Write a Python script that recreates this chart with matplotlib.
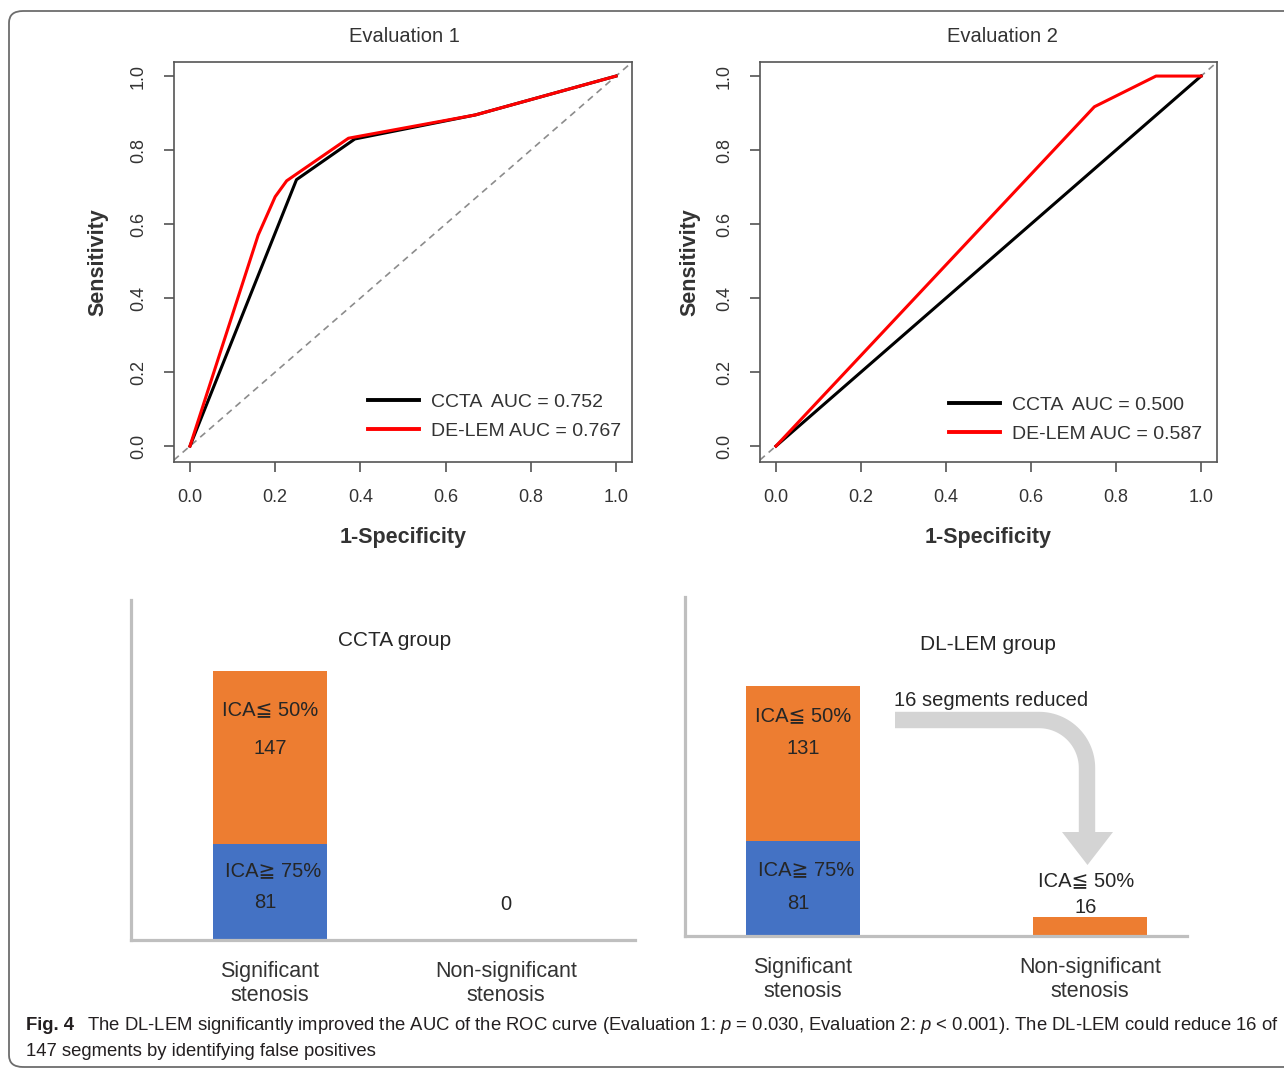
import numpy as np
import matplotlib
matplotlib.use("Agg")
import matplotlib.pyplot as plt
from matplotlib.lines import Line2D
from matplotlib.patches import Polygon, FancyBboxPatch

plt.rcParams['font.family'] = ['Liberation Sans', 'DejaVu Sans']
plt.rcParams['mathtext.fontset'] = 'custom'
plt.rcParams['mathtext.it'] = 'Liberation Sans:italic'
plt.rcParams['mathtext.rm'] = 'Liberation Sans'

# ---------------- data ----------------
eval_titles = ["Evaluation 1", "Evaluation 2"]

e1_ccta_fpr = [0.0, 0.25, 0.387, 0.67, 1.0]
e1_ccta_tpr = [0.0, 0.72, 0.83, 0.895, 1.0]
e1_dl_fpr = [0.0, 0.16, 0.20, 0.227, 0.372, 0.67, 1.0]
e1_dl_tpr = [0.0, 0.57, 0.674, 0.717, 0.832, 0.895, 1.0]

e2_ccta_fpr = [0.0, 1.0]
e2_ccta_tpr = [0.0, 1.0]
e2_dl_fpr = [0.0, 0.749, 0.894, 1.0]
e2_dl_tpr = [0.0, 0.917, 1.0, 1.0]

e1_labels = ["CCTA  AUC = 0.752", "DE-LEM AUC = 0.767"]
e2_labels = ["CCTA  AUC = 0.500", "DE-LEM AUC = 0.587"]

roc_ticks = [0.0, 0.2, 0.4, 0.6, 0.8, 1.0]
roc_ticklabels = ["0.0", "0.2", "0.4", "0.6", "0.8", "1.0"]

bar_categories = ["Significant\nstenosis", "Non-significant\nstenosis"]
ccta_high = [81, 0]     # ICA >= 75%
ccta_low = [147, 0]     # ICA <= 50%
dl_high = [81, 0]
dl_low = [131, 16]
group_titles = ["CCTA group", "DL-LEM group"]
reduced_text = "16 segments reduced"

ORANGE = "#ED7D31"
BLUE = "#4472C4"
GRAY_AX = "#bfbfbf"
TXT = "#262626"
RTXT = "#333333"

W, H = 1284, 1069
fig = plt.figure(figsize=(W / 100, H / 100), dpi=100)


def box(l, t, r, b):
    return [l / W, (H - b) / H, (r - l) / W, (b - t) / H]


def fx(x):
    return np.asarray(x) / W


def fy(y):
    return (H - np.asarray(y)) / H


# frame
frame = FancyBboxPatch((fx(9), fy(1067)), fx(1400) - fx(9), fy(11) - fy(1067),
                       boxstyle="round,pad=0,rounding_size=0.011",
                       transform=fig.transFigure, fill=False,
                       edgecolor="#6d6d6d", linewidth=1.3)
fig.patches.append(frame)

# ---------------- ROC panels ----------------
roc_specs = [
    (box(174, 62, 632, 462), e1_ccta_fpr, e1_ccta_tpr, e1_dl_fpr, e1_dl_tpr, e1_labels,
     (0.4236, 0.055), 403, 404, 98),
    (box(760, 62, 1217, 462), e2_ccta_fpr, e2_ccta_tpr, e2_dl_fpr, e2_dl_tpr, e2_labels,
     (0.4136, 0.0475), 988, 1002, 690),
]
for i, (pos, cf, ct, df, dt, labs, lpos, xc, tc, ylx) in enumerate(roc_specs):
    ax = fig.add_axes(pos)
    ax.set_xlim(-0.0375, 1.0375)
    ax.set_ylim(-0.043, 1.038)
    ax.plot([-0.1, 1.1], [-0.1, 1.1], linestyle=(0, (4, 3)), color="#8c8c8c", lw=1.2)
    l1, = ax.plot(cf, ct, color="black", lw=2.2, solid_joinstyle="round")
    l2, = ax.plot(df, dt, color="#ff0000", lw=2.2, solid_joinstyle="round")
    ax.set_xticks(roc_ticks)
    ax.set_xticklabels(roc_ticklabels)
    ax.set_yticks(roc_ticks)
    ax.set_yticklabels(roc_ticklabels, rotation=90, va="center")
    ax.tick_params(direction="out", length=7.5, width=1.1, color="#444444",
                   labelsize=13, labelcolor=RTXT, pad=12)
    for s in ax.spines.values():
        s.set_color("#555555")
        s.set_linewidth(1.2)
    leg = ax.legend([l1, l2], labs, loc="lower left", bbox_to_anchor=lpos,
                    frameon=False, fontsize=14, handlelength=2.6,
                    handletextpad=0.65, labelspacing=0.6, borderpad=0,
                    borderaxespad=0)
    for t in leg.get_texts():
        t.set_color(RTXT)
    for h in leg.get_lines():
        h.set_linewidth(2.8)
    fig.text(fx(tc), fy(37), eval_titles[i], ha="center", va="center",
             fontsize=14.5, color=RTXT)
    fig.text(fx(xc), fy(537), "1-Specificity", ha="center", va="center",
             fontsize=15.5, fontweight="bold", color=RTXT)
    fig.text(fx(ylx), fy(262), "Sensitivity", ha="center", va="center",
             rotation=90, fontsize=15.5, fontweight="bold", color=RTXT)

# ---------------- bar panels ----------------
# (axes box, high, low, xlim, bar width, title x, title y,
#  orange label offsets (pt), blue label offsets (pt))
bar_specs = [
    (box(131, 600, 635, 940), ccta_high, ccta_low, (-0.589, 1.547), 0.483, 395, 641,
     (-28, -56), (-19, -42)),
    (box(685, 597, 1187, 936), dl_high, dl_low, (-0.411, 1.338), 0.397, 988, 644,
     (-21, -45), (-21, -45)),
]
YMAX = 288
for i, (pos, high, low, xl, bw, tx, ty, ooff, boff) in enumerate(bar_specs):
    ax = fig.add_axes(pos)
    x = np.arange(len(bar_categories))
    ax.bar(x, high, width=bw, color=BLUE, linewidth=0)
    ax.bar(x, low, width=bw, bottom=high, color=ORANGE, linewidth=0)
    ax.set_xlim(*xl)
    ax.set_ylim(0, YMAX)
    ax.set_xticks(x)
    ax.set_xticklabels(bar_categories, fontsize=15.5, color="#333333",
                       linespacing=1.2)
    ax.set_yticks([])
    ax.tick_params(axis="x", length=0, pad=15)
    for s in ["top", "right"]:
        ax.spines[s].set_visible(False)
    for s in ["left", "bottom"]:
        ax.spines[s].set_color(GRAY_AX)
        ax.spines[s].set_linewidth(2.3)
    ax.patch.set_alpha(0)
    fig.text(fx(tx), fy(ty), group_titles[i], ha="center", va="center",
             fontsize=15, color=TXT)
    for j in range(len(x)):
        hi, lo = high[j], low[j]
        if hi > 0:
            ax.annotate("ICA≧ 75%", (x[j], hi), xytext=(2, boff[0]), textcoords="offset points",
                        ha="center", va="center", fontsize=14.5, color=TXT)
            ax.annotate(str(hi), (x[j], hi), xytext=(-3, boff[1]), textcoords="offset points",
                        ha="center", va="center", fontsize=14.5, color=TXT)
        if lo > 0 and hi > 0:
            ax.annotate("ICA≦ 50%", (x[j], hi + lo), xytext=(0, ooff[0]), textcoords="offset points",
                        ha="center", va="center", fontsize=14.5, color=TXT)
            ax.annotate(str(lo), (x[j], hi + lo), xytext=(0, ooff[1]), textcoords="offset points",
                        ha="center", va="center", fontsize=14.5, color=TXT)
        elif lo > 0:
            ax.annotate("ICA≦ 50%", (x[j], hi + lo), xytext=(-3, 26), textcoords="offset points",
                        ha="center", va="center", fontsize=14.5, color=TXT)
            ax.annotate(str(lo), (x[j], hi + lo), xytext=(-3, 7), textcoords="offset points",
                        ha="center", va="center", fontsize=14.5, color=TXT)
        if hi == 0 and lo == 0:
            ax.text(x[j], 30, "0", ha="center", va="center", fontsize=14.5, color=TXT)

# curved arrow in DL-LEM panel
r = 48
cx, cy = 1087 - r, 720 + r
ang = np.linspace(np.pi / 2, 0, 30)
px = np.concatenate([[895], cx + r * np.cos(ang), [1087]])
py = np.concatenate([[720], cy - r * np.sin(ang), [833]])
arrow_line = Line2D(fx(px), fy(py), transform=fig.transFigure, color="#d4d4d4",
                    linewidth=11.8, solid_capstyle="butt", solid_joinstyle="round")
fig.lines.append(arrow_line)
head = Polygon([[fx(1062), fy(832)], [fx(1113), fy(832)], [fx(1087.5), fy(865)]],
               closed=True, transform=fig.transFigure, facecolor="#d4d4d4",
               edgecolor="none")
fig.patches.append(head)
fig.text(fx(894), fy(701), reduced_text, ha="left", va="center", fontsize=14.5, color=TXT)

# caption
CAP = 13.3
fig.text(fx(26), fy(1025), "Fig. 4", ha="left", va="center", fontsize=CAP,
         fontweight="bold", color="#231f20")
fig.text(fx(87), fy(1025),
         r"The DL-LEM significantly improved the AUC of the ROC curve (Evaluation 1: $p$ = 0.030, "
         r"Evaluation 2: $p$ < 0.001). The DL-LEM could reduce 16 of",
         ha="left", va="center", fontsize=CAP, color="#231f20")
fig.text(fx(26), fy(1052), "147 segments by identifying false positives",
         ha="left", va="center", fontsize=CAP, color="#231f20")

fig.savefig("out.png", dpi=100)
